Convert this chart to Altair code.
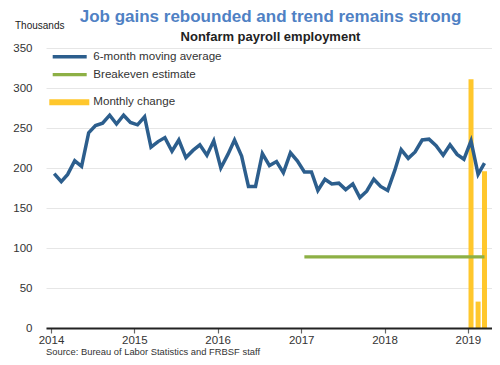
import altair as alt
import pandas as pd

# 6-month moving average, monthly Jan 2014 - Mar 2019 (thousands)
avg_values = [193, 183, 192, 209, 202, 244, 253, 256, 266, 255, 266, 257,
              254, 264, 226, 233, 238, 221, 235, 213, 222, 229, 216, 234,
              200, 217, 235, 215, 177, 177, 218, 203, 208, 194, 219, 209,
              195, 195, 172, 186, 180, 181, 173, 180, 163, 171, 186, 177,
              172, 197, 223, 212, 220, 235, 236, 228, 216, 229, 217, 211,
              234, 192, 206]
avg_months = [f"{2014 + i // 12}-{i % 12 + 1:02d}-15T00:00:00" for i in range(len(avg_values))]

# Monthly change, bars
bar_months = ["2019-01-15T00:00:00", "2019-02-15T00:00:00", "2019-03-15T00:00:00"]
bar_values = [311, 33, 196]

# Breakeven estimate
breakeven_months = ["2017-01-15T00:00:00", "2019-03-15T00:00:00"]
breakeven_values = [89, 89]

year_ticks = [2014, 2015, 2016, 2017, 2018, 2019]
y_ticks = [0, 50, 100, 150, 200, 250, 300, 350]

title_text = "Job gains rebounded and trend remains strong"
subtitle_text = "Nonfarm payroll employment"
unit_text = "Thousands"
source_text = "Source: Bureau of Labor Statistics and FRBSF staff"
legend_labels = ["6-month moving average", "Breakeven estimate", "Monthly change"]

BLUE = "#2C5E8D"
GREEN = "#8DB045"
YELLOW = "#FFC72C"
TITLE_BLUE = "#4F81C4"
TEXT = "#333333"

df_avg = pd.DataFrame({"date": avg_months, "value": avg_values})
df_bar = pd.DataFrame({"date": bar_months, "value": bar_values})
df_be = pd.DataFrame({"date": breakeven_months, "value": breakeven_values})

x_scale = alt.Scale(domain=[alt.DateTime(year=2014, month=1, date=1),
                            alt.DateTime(year=2019, month=3, date=26)])
y_scale = alt.Scale(domain=[0, 350], nice=False)

x_enc = alt.X("date:T", scale=x_scale, title=None,
              axis=alt.Axis(values=[alt.DateTime(year=y, month=1, date=1) for y in year_ticks],
                            format="%Y", labelFlush=False, grid=False,
                            domainColor="#222222", domainWidth=2,
                            tickColor="#666666", tickSize=5, tickWidth=1.2,
                            labelFontSize=11.5, labelColor=TEXT, labelPadding=1.8,
                            zindex=1))
y_enc = alt.Y("value:Q", scale=y_scale, title=None,
              axis=alt.Axis(values=y_ticks, domain=False, ticks=False,
                            labelPadding=14, gridColor="#e6e6e6", gridWidth=1,
                            labelFontSize=11.5, labelColor=TEXT))

bars = alt.Chart(df_bar).mark_bar(color=YELLOW, size=5).encode(x=x_enc, y=y_enc)
be_line = alt.Chart(df_be).mark_line(color=GREEN, strokeWidth=3.2).encode(x=x_enc, y=y_enc)
avg_line = alt.Chart(df_avg).mark_line(color=BLUE, strokeWidth=3.5).encode(x=x_enc, y=y_enc)

one = alt.Data(values=[{}])

def rule(x1, x2, y, color, w):
    return alt.Chart(one).mark_rule(color=color, strokeWidth=w).encode(
        x=alt.value(x1), x2=alt.value(x2), y=alt.value(y))

def label(txt, x, y, size, color=TEXT, bold=False, align="left"):
    return alt.Chart(one).mark_text(text=txt, fontSize=size, color=color,
                                    fontWeight="bold" if bold else "normal",
                                    align=align, baseline="middle").encode(
        x=alt.value(x), y=alt.value(y))

legend = [
    rule(6.7, 40.7, 8.7, BLUE, 3.5), label(legend_labels[0], 47.3, 8.7, 11.6),
    rule(6.7, 40.7, 26.7, GREEN, 3.2), label(legend_labels[1], 47.3, 26.7, 11.6),
    rule(3.3, 43.3, 54.3, YELLOW, 6), label(legend_labels[2], 47.3, 54.3, 11.6),
]

texts = [
    label(title_text, 224.5, -31.3, 17, color=TITLE_BLUE, bold=True, align="center"),
    label(unit_text, -31, -21.7, 10, color="#222222"),
    label(subtitle_text, 224.5, -10.7, 13, color="#222222", bold=True, align="center"),
    label(source_text, 0, 303.8, 9.4, color=TEXT),
]

chart = alt.layer(bars, be_line, avg_line, *legend, *texts).properties(
    width=446, height=280,
    autosize=alt.AutoSizeParams(type="none"),
    padding={"left": 38, "top": 40, "right": 0, "bottom": 29},
).configure(font="Liberation Sans").configure_view(stroke=None)

chart.save("out.html", embed_options={"renderer": "svg", "actions": False})
